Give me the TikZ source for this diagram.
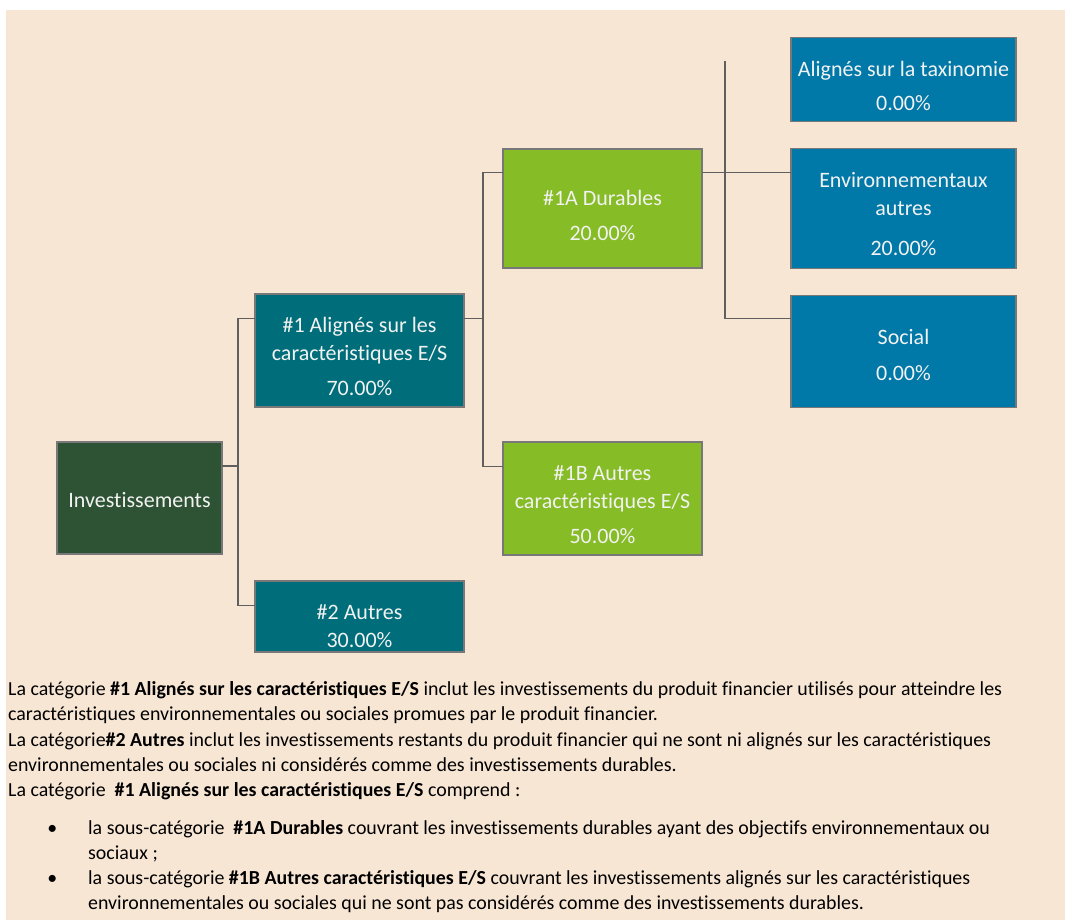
\documentclass[tikz,border=0pt]{standalone}
\usepackage{fontspec}
\setmainfont{Carlito}[Ligatures=NoCommon]
\usepackage{tikz}
\usepackage{xcolor}
\definecolor{beige}{RGB}{248,230,212}
\definecolor{forest}{RGB}{46,83,52}
\definecolor{petrol}{RGB}{0,110,122}
\definecolor{leaf}{RGB}{134,188,37}
\definecolor{ocean}{RGB}{0,120,168}
\definecolor{boxline}{RGB}{120,120,120}
\definecolor{boxtext}{RGB}{242,242,242}
\definecolor{linkgray}{RGB}{95,95,95}
\usetikzlibrary{positioning, calc}
\newcommand{\Drop}[1]{\rule{0pt}{#1pt}}
\tikzstyle{Box} = [
draw=boxline,
line width=1.2pt,
text=boxtext,
align=center,
inner sep=0pt, outer sep=0pt,
font=\fontsize{22}{28}\selectfont]
\tikzstyle{Link} = [draw=linkgray, line width=1.5pt]
\tikzstyle{Note} = [
anchor=north west, align=left, inner sep=0pt,
font=\fontsize{19.9}{25.2}\selectfont]

\begin{document}
\begin{tikzpicture}[x=1pt, y=-1pt]
    \fill[white] (0,0) rectangle (1065,920);
    \fill[beige] (6,10) rectangle (1065,920);
    \useasboundingbox (0,0) rectangle (1065,920);

    \node [Box, fill=forest, minimum width=165pt, minimum height=112pt] (inv) at (139.5,498) {\Drop{20}Investissements};
    \node [Box, fill=petrol, minimum width=209pt, minimum height=113pt, above right=35pt and 33pt of inv] (cat1)
        {\Drop{27.5}\#1 Alignés sur les\\caractéristiques E/S\\[7pt]70.00\%};
    \node [Box, fill=petrol, minimum width=209pt, minimum height=71pt, below right=27pt and 33pt of inv] (cat2)
        {\Drop{34}\#2 Autres\\30.00\%};
    \node [Box, fill=leaf, minimum width=199pt, minimum height=119pt, above right=26pt and 39pt of cat1] (dur)
        {\Drop{28.5}\#1A Durables\\[7pt]20.00\%};
    \node [Box, fill=leaf, minimum width=199pt, minimum height=113pt, below right=35pt and 39pt of cat1] (autES)
        {\Drop{28}\#1B Autres\\caractéristiques E/S\\[7pt]50.00\%};
    \node [Box, fill=ocean, minimum width=225pt, minimum height=120pt, right=89pt of dur] (env)
        {\Drop{27}Environnementaux\\autres\\[12pt]20.00\%};
    \node [Box, fill=ocean, minimum width=225pt, minimum height=84pt, above=27pt of env] (tax)
        {\Drop{27.5}Alignés sur la taxinomie\\[6pt]0.00\%};
    \node [Box, fill=ocean, minimum width=225pt, minimum height=112pt, below=27pt of env] (soc)
        {\Drop{22}Social\\[8pt]0.00\%};

    % tree links
    \draw[Link] ([yshift=32pt]inv.east) -- ++(16,0) coordinate (j1);
    \draw[Link] ([yshift=32pt]cat1.west) -| (j1) |- ([yshift=11pt]cat2.west);
    \draw[Link] ([yshift=32pt]cat1.east) -- ++(19,0) coordinate (j2);
    \draw[Link] ([yshift=36pt]dur.west) -| (j2) |- ([yshift=32pt]autES.west);
    \draw[Link] ([yshift=36pt]dur.east) -- ([yshift=36pt]env.west);
    \coordinate (j3) at ([xshift=23pt,yshift=36pt]dur.east);
    \coordinate (taxtip) at ([yshift=18pt]tax.west);
    \draw[Link] (j3 |- taxtip) -- (j3) |- ([yshift=33pt]soc.west);

    \node [Note] (txt) at (8,681.5) {La catégorie \textbf{\#1 Alignés sur les caractéristiques E/S} inclut les investissements du produit financier utilisés pour atteindre les\\
        caractéristiques environnementales ou sociales promues par le produit financier.\\
        La catégorie\textbf{\#2 Autres} inclut les investissements restants du produit financier qui ne sont ni alignés sur les caractéristiques\\
        environnementales ou sociales ni considérés comme des investissements durables.\\
        La catégorie \ \textbf{\#1 Alignés sur les caractéristiques E/S} comprend :};
    \node [Note, font=\fontsize{19.9}{24.8}\selectfont] (lst) at (88,820.5) {\llap{•\hspace{31pt}}la sous-catégorie \ \textbf{\#1A Durables} couvrant les investissements durables ayant des objectifs environnementaux ou\\
        sociaux ;\\
        \llap{•\hspace{31pt}}la sous-catégorie \textbf{\#1B Autres caractéristiques E/S} couvrant les investissements alignés sur les caractéristiques\\
        environnementales ou sociales qui ne sont pas considérés comme des investissements durables.};
\end{tikzpicture}
\end{document}
